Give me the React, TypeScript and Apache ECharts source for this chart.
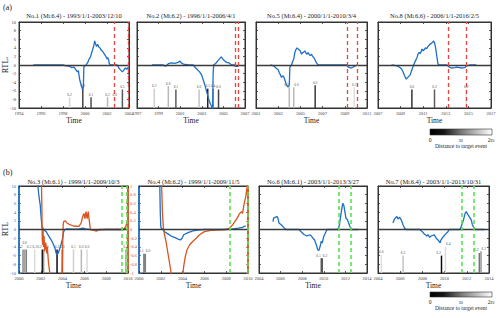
import React, { useEffect, useRef } from "react";
import * as echarts from "echarts";

const FONT = "Liberation Serif, serif";

// ---------- data (year, RTL) ----------
const no1Rtl = [[1995.3,0],[1996.5,0],[1997.5,0.05],[1998.0,0],[1998.3,-0.2],[1998.6,-0.3],[1998.8,-0.6],[1999.0,-0.5],[1999.15,-1.0],[1999.3,-1.6],[1999.4,-1.3],[1999.5,-3.2],[1999.6,-4.2],[1999.7,-5.0],[1999.78,-5.8],[1999.85,-5.2],[1999.9,-0.4],[2000.1,0],[2000.25,0.6],[2000.4,1.5],[2000.5,1.9],[2000.6,2.8],[2000.7,3.6],[2000.8,4.5],[2000.88,5.6],[2000.95,5.0],[2001.05,4.3],[2001.15,4.8],[2001.25,4.2],[2001.35,4.0],[2001.5,3.4],[2001.6,3.2],[2001.75,2.6],[2001.9,2.0],[2002.0,1.4],[2002.08,1.7],[2002.15,1.2],[2002.2,0.4],[2002.3,0],[2002.9,0],[2003.0,-0.3],[2003.1,-0.8],[2003.25,-1.2],[2003.4,-1.6],[2003.5,-1.3],[2003.6,-0.9],[2003.7,-0.7],[2003.8,-1.0],[2003.9,-0.6],[2003.98,-0.7]];
const no2Rtl = [[1998.4,0],[1999.0,0],[1999.4,0.05],[1999.6,-0.3],[1999.75,-0.1],[1999.9,0.3],[2000.2,0.5],[2000.5,0.4],[2000.8,0.6],[2001.0,0.9],[2001.1,0.5],[2001.3,0.2],[2001.8,0],[2002.2,0],[2002.4,-0.6],[2002.6,-1.1],[2002.8,-1.6],[2003.0,-2.4],[2003.15,-3.6],[2003.3,-4.8],[2003.45,-6.2],[2003.6,-7.6],[2003.75,-8.8],[2003.9,-9.6],[2004.0,-10.5],[2004.05,-2],[2004.1,0],[2004.3,0.4],[2004.5,1.0],[2004.7,1.6],[2004.8,1.9],[2004.95,1.4],[2005.1,1.0],[2005.3,0.6],[2005.5,0.5],[2005.7,0.1],[2006.0,0],[2006.1,-0.3],[2006.4,-0.3]];
const no5Rtl = [[2002.3,0],[2002.6,-0.2],[2002.8,-0.7],[2003.0,-1.1],[2003.1,-1.8],[2003.2,-2.3],[2003.3,-2.9],[2003.4,-2.5],[2003.5,-2.7],[2003.6,-3.5],[2003.7,-4.3],[2003.8,-4.9],[2003.9,-5.1],[2004.0,-4.7],[2004.05,-0.5],[2004.2,0],[2004.3,0.8],[2004.4,1.4],[2004.5,2.9],[2004.6,3.6],[2004.7,4.0],[2004.8,3.7],[2004.9,3.5],[2005.0,3.2],[2005.1,2.5],[2005.2,2.9],[2005.3,3.0],[2005.4,3.3],[2005.5,2.8],[2005.6,2.5],[2005.7,2.9],[2005.8,2.4],[2005.9,2.2],[2006.0,2.5],[2006.1,2.0],[2006.2,1.7],[2006.3,1.3],[2006.45,0.5],[2006.6,0],[2009.2,0],[2009.3,-0.5],[2009.6,-0.7],[2009.9,-0.3],[2010.1,0]];
const no8Rtl = [[2008.2,0],[2008.7,-0.2],[2009.0,-0.7],[2009.1,-1.0],[2009.2,-1.5],[2009.35,-2.5],[2009.5,-3.3],[2009.6,-3.0],[2009.7,-2.7],[2009.85,-2.3],[2010.0,-1.1],[2010.15,0],[2010.3,0.9],[2010.45,1.7],[2010.55,2.6],[2010.65,2.9],[2010.75,2.7],[2010.9,3.7],[2011.0,3.3],[2011.1,3.6],[2011.2,4.0],[2011.3,3.8],[2011.45,4.4],[2011.6,4.8],[2011.75,5.1],[2011.85,5.3],[2011.9,5.6],[2012.0,5.2],[2012.1,4.0],[2012.2,2.1],[2012.3,0.3],[2012.4,0],[2013.1,0],[2013.3,-0.5],[2013.5,-0.7],[2013.8,-0.6],[2014.0,-0.5],[2014.2,-0.6],[2014.4,-0.7],[2014.7,-0.6],[2014.85,-0.2],[2015.1,0],[2015.7,0]];
const no3Rtl = [[2001.7,11],[2001.8,8.3],[2001.9,6.4],[2001.95,5.6],[2002.0,3.7],[2002.1,0.7],[2002.2,0],[2002.35,-0.2],[2002.5,-0.5],[2002.65,-1.2],[2002.8,-1.8],[2002.95,-2.4],[2003.1,-3.1],[2003.3,-4.3],[2003.4,-5.4],[2003.5,-5.8],[2003.6,-5.4],[2003.7,-4.7],[2003.85,-3.5],[2004.0,-2.0],[2004.1,-0.5],[2004.2,0],[2004.4,0.15],[2004.9,0.1],[2005.5,0.15],[2005.9,0.3],[2006.1,0.15],[2006.5,0],[2007.1,-0.2],[2007.4,-0.1],[2008.0,0],[2009.5,0],[2009.8,0.3]];
const no3Rtl2 = [[2002.05,1.2],[2002.1,0.5],[2002.13,-0.2],[2002.17,-0.35],[2002.2,0.05],[2002.25,-0.4],[2002.3,-0.15],[2002.35,-0.5],[2002.45,-0.3],[2002.55,-0.55],[2002.6,-0.4],[2002.7,-0.75],[2002.8,-0.95],[2002.9,-1.2],[2003.95,-1.2],[2004.0,-0.5],[2004.05,0.1],[2004.1,0.18],[2004.25,0.2],[2004.4,0.15],[2004.6,0.12],[2005.0,0.08],[2005.5,0.07],[2005.7,0.15],[2005.85,0.3],[2005.95,0.37],[2006.05,0.25],[2006.15,0.41],[2006.25,0.25],[2006.35,0.41],[2006.45,0.2],[2006.55,0],[2007.1,-0.04],[2007.4,0],[2009.6,0],[2009.8,0.07],[2009.95,0.2]];
const no4Rtl = [[2001.9,11],[2001.95,4],[2002.0,0.7],[2002.05,0.3],[2002.2,0],[2002.35,-0.5],[2002.65,-1.0],[2002.95,-1.5],[2003.25,-1.8],[2003.6,-2.2],[2003.8,-2.4],[2003.95,-2.0],[2004.1,-1.2],[2004.5,-0.7],[2004.95,-0.3],[2005.4,-0.15],[2006.0,0],[2007.9,0],[2008.5,0.1],[2009.1,0.3],[2009.5,0.5],[2009.7,0.8],[2009.8,0.7]];
const no4Rtl2 = [[2002.05,1.2],[2002.15,0.4],[2002.25,0],[2002.5,-0.31],[2002.75,-0.69],[2002.9,-0.92],[2003.0,-1.1],[2004.0,-1.1],[2004.1,-0.85],[2004.25,-0.62],[2004.4,-0.47],[2004.65,-0.35],[2004.8,-0.31],[2004.95,-0.27],[2005.25,-0.2],[2005.55,-0.12],[2006.0,-0.05],[2006.6,-0.02],[2007.9,0],[2008.3,0.03],[2008.6,0.11],[2008.9,0.22],[2009.1,0.3],[2009.2,0.36],[2009.4,0.41],[2009.5,0.37],[2009.65,0.6],[2009.8,0.76],[2009.9,0.95],[2009.97,1.05]];
const no6Rtl = [[2005.3,1.8],[2005.35,2.6],[2005.5,2.8],[2005.65,3.0],[2005.75,2.6],[2005.85,1.5],[2006.05,1.1],[2006.2,0.7],[2006.4,0.2],[2006.5,0],[2007.7,0],[2007.9,-0.5],[2008.2,-1.2],[2008.45,-1.5],[2008.7,-1.2],[2008.85,-1.5],[2009.0,-2.0],[2009.15,-2.4],[2009.3,-3.5],[2009.45,-4.7],[2009.55,-4.8],[2009.7,-3.5],[2009.75,-2.7],[2009.85,-3.1],[2010.0,-1.6],[2010.2,-0.5],[2010.3,0],[2011.3,0],[2011.45,1.1],[2011.6,3.7],[2011.75,6.0],[2011.85,5.6],[2011.95,4.1],[2012.05,2.6],[2012.2,2.2],[2012.4,0.8],[2012.55,0],[2013.2,0]];
const no7Rtl = [[2005.35,1.5],[2005.45,2.2],[2005.55,2.6],[2005.7,3.0],[2005.8,2.4],[2005.95,2.8],[2006.1,2.2],[2006.25,1.1],[2006.4,0.3],[2006.55,0],[2007.75,0],[2008.0,-0.5],[2008.15,-1.0],[2008.4,-1.5],[2008.5,-1.2],[2008.65,-1.8],[2008.8,-1.5],[2009.05,-1.2],[2009.25,-2.0],[2009.4,-2.4],[2009.6,-3.1],[2009.65,-2.5],[2009.9,-1.6],[2010.1,-1.0],[2010.3,-0.5],[2010.4,0],[2011.4,0],[2011.55,1.1],[2011.7,2.2],[2011.85,3.7],[2011.95,4.1],[2012.1,3.4],[2012.2,3.0],[2012.4,2.2],[2012.5,1.1],[2012.7,0.15],[2012.8,0],[2013.6,0]];

// ---------- events: [year, magnitude, bar top (RTL units), distance / r0] ----------
const no1Events = [[1998.6,"6.2",-7.5,1.85],[1999.8,"6.9",-5.5,0.6],[2000.55,"6.1",-7.5,0.7],[2002.05,"6.2",-7.5,1.6],[2002.7,"6.0",-7.5,1.95],[2003.4,"6.5",-5.7,0.75]];
const no2Events = [[1998.6,"6.2",-5.5,1.8],[1999.9,"6.8",-4.9,1.6],[2000.6,"6.1",-5.7,0.8],[2002.75,"6.0",-5.7,1.7],[2003.55,"6.5",-5.5,0.3],[2004.05,"6.4",-5.5,1.2],[2004.55,"6.0",-5.7,0.6]];
const no5Events = [[2004.0,"6.2",-5.2,1.6],[2004.4,"6.0",-5.2,1.6],[2006.33,"6.0",-4.7,0.5],[2009.85,"6.2",-5.2,1.95]];
const no8Events = [[2010.0,"6.6",-5.7,0.45],[2012.0,"6.3",-5.7,0.8],[2014.8,"6.0",-5.7,1.95]];
const no3Events = [[2000.37,"6.2",-4.6,1.2],[2000.52,"6.0",-4.6,1.4],[2000.67,"6.3",-4.6,1.1],[2001.44,"6.1",-4.6,1.9],[2002.14,"6.2",-4.6,0.1],[2002.26,"6.0",-4.6,1.3],[2003.49,"6.2",-4.6,0.1],[2003.98,"6.0",-4.6,0.5],[2005.0,"6.1",-4.6,1.8],[2005.72,"6.0",-4.6,1.6],[2006.24,"6.0",-4.6,1.9],[2009.8,"6.1",-4.6,1.5]];
const no4Events = [[2000.46,"6.1",-5.6,0.9],[2000.58,"6.0",-5.6,1.1]];
const no6Events = [[2009.77,"6.1",-6.6,0.7],[2009.86,"6.2",-6.6,0.8]];
const no7Events = [[2004.3,"6.0",-5.8,1.95],[2006.26,"6.2",-6.0,1.7],[2009.72,"6.2",-6.0,0.1],[2010.08,"6.4",-4.0,1.9],[2013.13,"6.2",-5.4,1.0],[2013.28,"6.3",-5.0,1.3]];

// ---------- target-period markers ----------
const no1Marks = [2002.65, 2003.92];
const no2Marks = [2006.1, 2006.4];
const no5Marks = [2009.25, 2010.15];
const no8Marks = [2013.25, 2014.8];
const no3Marks = [2009.45, 2009.85];
const no4Marks = [2008.35, 2009.95];
const no6Marks = [2011.4, 2012.45];
const no7Marks = [2011.5, 2012.65];

// ---------- tick labels ----------
const ticksNo1 = [1994, 1996, 1998, 2000, 2002, 2004];
const ticksNo2 = [1997, 1999, 2001, 2003, 2005, 2007];
const ticksNo5 = [2001, 2003, 2005, 2007, 2009, 2011];
const ticksNo8 = [2007, 2009, 2011, 2013, 2015, 2017];
const ticksNo3 = [2000, 2002, 2004, 2006, 2008, 2010];
const ticksNo4 = [2000, 2002, 2004, 2006, 2008, 2010];
const ticksNo6 = [2004, 2006, 2008, 2010, 2012, 2014];
const ticksNo7 = [2004, 2006, 2008, 2010, 2012, 2014];

const titles = [
  ["No.1", "6.4", "1993/1/1-2003/12/10"],
  ["No.2", "6.2", "1996/1/1-2006/4/1"],
  ["No.5", "6.4", "2000/1/1-2010/3/4"],
  ["No.8", "6.6", "2006/1/1-2016/2/5"],
  ["No.3", "6.1", "1999/1/1-2009/10/3"],
  ["No.4", "6.2", "1999/1/1-2009/11/5"],
  ["No.6", "6.1", "2003/1/1-2013/3/27"],
  ["No.7", "6.4", "2003/1/1-2013/10/31"],
];

const BLUE = "#1f6fc5";
const ORANGE = "#d9541e";
const RED = "#e5463f";
const GREEN = "#57e34f";

const panels = [
  { rtl: no1Rtl, events: no1Events, marks: no1Marks, ticks: ticksNo1, mark: RED },
  { rtl: no2Rtl, events: no2Events, marks: no2Marks, ticks: ticksNo2, mark: RED },
  { rtl: no5Rtl, events: no5Events, marks: no5Marks, ticks: ticksNo5, mark: RED },
  { rtl: no8Rtl, events: no8Events, marks: no8Marks, ticks: ticksNo8, mark: RED },
  { rtl: no3Rtl, rtl2: no3Rtl2, events: no3Events, marks: no3Marks, ticks: ticksNo3, mark: GREEN },
  { rtl: no4Rtl, rtl2: no4Rtl2, events: no4Events, marks: no4Marks, ticks: ticksNo4, mark: GREEN },
  { rtl: no6Rtl, events: no6Events, marks: no6Marks, ticks: ticksNo6, mark: GREEN },
  { rtl: no7Rtl, events: no7Events, marks: no7Marks, ticks: ticksNo7, mark: GREEN },
];

// layout
const boxes = [
  [19, 22, 110, 86], [137, 22, 108, 86], [256, 22, 111, 86], [378, 22, 113, 86],
  [19, 186, 109, 87], [139, 186, 109, 87], [259, 186, 108, 87], [378, 186, 111, 87],
];

function buildOption() {
  const grid: any[] = [];
  const xAxis: any[] = [];
  const yAxis: any[] = [];
  const series: any[] = [];
  const graphic: any[] = [];

  panels.forEach((p, i) => {
    const [l, t, w, h] = boxes[i];
    const bottomRow = i >= 4;
    const dual = !!p.rtl2;
    grid.push({ left: l, top: t, width: w, height: h, show: true, borderColor: "#333", borderWidth: 1, containLabel: false });
    xAxis.push({
      type: "value", gridIndex: i, min: p.ticks[0], max: p.ticks[p.ticks.length - 1],
      splitLine: { show: false },
      axisLine: { onZero: false, lineStyle: { color: "#333", width: 1 } },
      axisTick: { inside: true, length: 2, customValues: p.ticks, lineStyle: { color: "#333", width: 0.8 } },
      axisLabel: { customValues: p.ticks, fontSize: 4.5, color: "#444", fontFamily: FONT, margin: 2.5, formatter: (v: number) => String(Math.round(v)) },
    });
    xAxis.push({
      type: "value", gridIndex: i, min: p.ticks[0], max: p.ticks[p.ticks.length - 1], position: "top",
      splitLine: { show: false },
      axisLine: { onZero: false, lineStyle: { color: "#333", width: 1 } },
      axisTick: { inside: true, length: 2, customValues: p.ticks, lineStyle: { color: "#333", width: 0.8 } },
      axisLabel: { show: false },
    });
    const showLeftLabels = i === 0 || i === 4;
    yAxis.push({
      type: "value", gridIndex: i, min: -10, max: 10, interval: 2, position: "left",
      splitLine: { show: false },
      axisLine: { show: true, onZero: false, lineStyle: { color: dual ? BLUE : "#333", width: dual ? 1.6 : 1 } },
      axisTick: { show: true, inside: true, length: 2, lineStyle: { color: dual ? BLUE : "#333", width: 0.8 } },
      axisLabel: { show: showLeftLabels, fontSize: 4.5, color: dual ? BLUE : "#444", fontFamily: FONT, margin: 3 },
    });
    graphic.push({
      type: "text", x: l + w / 2, y: t - (bottomRow ? 5 : 7),
      style: {
        text: `${titles[i][0]} (M{s|L}${titles[i][1]}) - ${titles[i][2]}`,
        fontSize: 6.5, fontFamily: FONT, fill: "#222", align: "center", verticalAlign: "middle",
        rich: { s: { fontSize: 4, fontFamily: FONT, fill: "#222", padding: [3, 0, 0, 0] } },
      },
    });
    graphic.push({
      type: "text", x: l + w / 2, y: t + h + 12.5,
      style: { text: "Time", fontSize: 7.5, fontFamily: FONT, fill: "#222", align: "center", verticalAlign: "middle" },
    });
  });

  const rightAxisIndex: Record<number, number> = {};
  panels.forEach((p, i) => {
    rightAxisIndex[i] = yAxis.length;
    if (p.rtl2) {
      yAxis.push({
        type: "value", gridIndex: i, min: -1, max: 1, interval: 0.2, position: "right",
        splitLine: { show: false },
        axisLine: { show: true, onZero: false, lineStyle: { color: ORANGE, width: 1.6 } },
        axisTick: { show: true, inside: true, length: 2, lineStyle: { color: ORANGE, width: 0.8 } },
        axisLabel: { show: i === 4, fontSize: 4.5, color: ORANGE, fontFamily: FONT, margin: 2, formatter: (v: number) => String(Math.round(v * 10) / 10) },
      });
    } else {
      yAxis.push({
        type: "value", gridIndex: i, min: -10, max: 10, interval: 2, position: "right",
        splitLine: { show: false },
        axisLine: { show: true, onZero: false, lineStyle: { color: "#333", width: 1 } },
        axisTick: { show: true, inside: true, length: 2, lineStyle: { color: "#333", width: 0.8 } },
        axisLabel: { show: false },
      });
    }
  });

  panels.forEach((p, i) => {
    const xi = i * 2;
    const evts = p.events as any[];
    series.push({
      type: "custom", xAxisIndex: xi, yAxisIndex: i, z: 1, silent: true, clip: true,
      data: evts.map((e) => [e[0], e[2]]),
      renderItem: (params: any, api: any) => {
        const k = params.dataIndex;
        const e = evts[k];
        const base = api.coord([api.value(0), -10]);
        const top = api.coord([api.value(0), api.value(1)]);
        const g = Math.round(Math.min(1, e[3] / 2) * 230);
        const col = `rgb(${g},${g},${g})`;
        const span = p.ticks[p.ticks.length - 1] - p.ticks[0];
        const near = 0.45 * span / 10;
        const closePrev = k > 0 && e[0] - evts[k - 1][0] < near;
        const closeNext = k < evts.length - 1 && evts[k + 1][0] - e[0] < near;
        let align = "center";
        let dy = 0;
        if (closePrev && closeNext) { dy = -4.5; }
        else if (closeNext) { align = "right"; }
        else if (closePrev) { align = "left"; }
        return {
          type: "group",
          children: [
            { type: "line", shape: { x1: base[0], y1: base[1], x2: top[0], y2: top[1] }, style: { stroke: col, lineWidth: 1.5 } },
            { type: "text", x: top[0] + (align === "left" ? 0.5 : align === "right" ? -0.5 : 0), y: top[1] - 0.5 + dy, style: { text: e[1], fill: "#555", fontSize: 3.6, fontFamily: FONT, align, verticalAlign: "bottom" } },
          ],
        };
      },
    });
    series.push({
      type: "line", xAxisIndex: xi, yAxisIndex: i, data: [], z: 2, silent: true,
      markLine: { silent: true, symbol: ["none", "none"], label: { show: false }, animation: false,
        data: [{ yAxis: 0, lineStyle: { color: "#3a3a3a", width: 1.4, type: "solid" } }] },
    });
    series.push({
      type: "line", xAxisIndex: xi, yAxisIndex: i, data: p.rtl, z: 3, showSymbol: false, silent: true,
      lineStyle: { color: BLUE, width: 1.3 }, clip: true,
    });
    if (p.rtl2) {
      series.push({
        type: "line", xAxisIndex: xi, yAxisIndex: rightAxisIndex[i], data: p.rtl2, z: 3, showSymbol: false, silent: true,
        lineStyle: { color: ORANGE, width: 1.3 }, clip: true,
      });
    }
    series.push({
      type: "line", xAxisIndex: xi, yAxisIndex: i, data: [], z: 4, silent: true,
      markLine: { silent: true, symbol: ["none", "none"], label: { show: false }, animation: false,
        data: p.marks.map((x) => ({ xAxis: x, lineStyle: { color: p.mark, width: p.mark === GREEN ? 1.6 : 1.3, type: [4, 3] } })) },
    });
  });

  graphic.push({ type: "text", x: 3, y: 3, style: { text: "(a)", fontSize: 8, fontFamily: FONT, fill: "#222" } });
  graphic.push({ type: "text", x: 3, y: 168, style: { text: "(b)", fontSize: 8, fontFamily: FONT, fill: "#222" } });
  graphic.push({
    type: "text", x: 5, y: 65, rotation: Math.PI / 2,
    style: { text: "RTL{s|s}", fontSize: 8, fontFamily: FONT, fill: "#222", align: "center", verticalAlign: "middle",
      rich: { s: { fontSize: 5, fontFamily: FONT, fill: "#222", padding: [3, 0, 0, 0] } } },
  });
  graphic.push({
    type: "text", x: 5, y: 229, rotation: Math.PI / 2,
    style: { text: "RTL", fontSize: 8, fontFamily: FONT, fill: "#222", align: "center", verticalAlign: "middle" },
  });

  const bars = [[430, 129, 62, 6], [430, 292, 62, 5]];
  bars.forEach(([x, y, w, h]) => {
    graphic.push({
      type: "rect", shape: { x, y, width: w, height: h },
      style: {
        fill: new echarts.graphic.LinearGradient(0, 0, 1, 0, [
          { offset: 0, color: "#000" }, { offset: 0.22, color: "#151515" }, { offset: 0.5, color: "#777" },
          { offset: 0.8, color: "#c8c8c8" }, { offset: 1, color: "#fff" },
        ]),
        stroke: "#333", lineWidth: 0.6,
      },
    });
    const ly = y + h + 5;
    graphic.push({ type: "text", x: x, y: ly, style: { text: "0", fontSize: 5.5, fontFamily: FONT, fill: "#222", align: "center", verticalAlign: "middle" } });
    graphic.push({ type: "text", x: x + w / 2, y: ly, style: { text: "r{s|0}", fontSize: 5.5, fontFamily: FONT, fill: "#222", align: "center", verticalAlign: "middle", rich: { s: { fontSize: 3.5, fontFamily: FONT, padding: [2, 0, 0, 0] } } } });
    graphic.push({ type: "text", x: x + w - 1, y: ly, style: { text: "2r{s|0}", fontSize: 5.5, fontFamily: FONT, fill: "#222", align: "center", verticalAlign: "middle", rich: { s: { fontSize: 3.5, fontFamily: FONT, padding: [2, 0, 0, 0] } } } });
    graphic.push({ type: "text", x: x + w / 2, y: ly + 6, style: { text: "Distance to target event", fontSize: 5.5, fontFamily: FONT, fill: "#222", align: "center", verticalAlign: "middle" } });
  });

  return { animation: false, backgroundColor: "#fff", grid, xAxis, yAxis, series, graphic };
}

export default function App() {
  const ref = useRef<HTMLDivElement>(null);
  useEffect(() => {
    const chart = echarts.init(ref.current!, null, { renderer: "svg" });
    chart.setOption(buildOption() as any);
    return () => chart.dispose();
  }, []);
  return (
    <div
      ref={ref}
      style={{ position: "absolute", left: 0, top: 0, width: 500, height: 318, background: "#fff" }}
    />
  );
}
